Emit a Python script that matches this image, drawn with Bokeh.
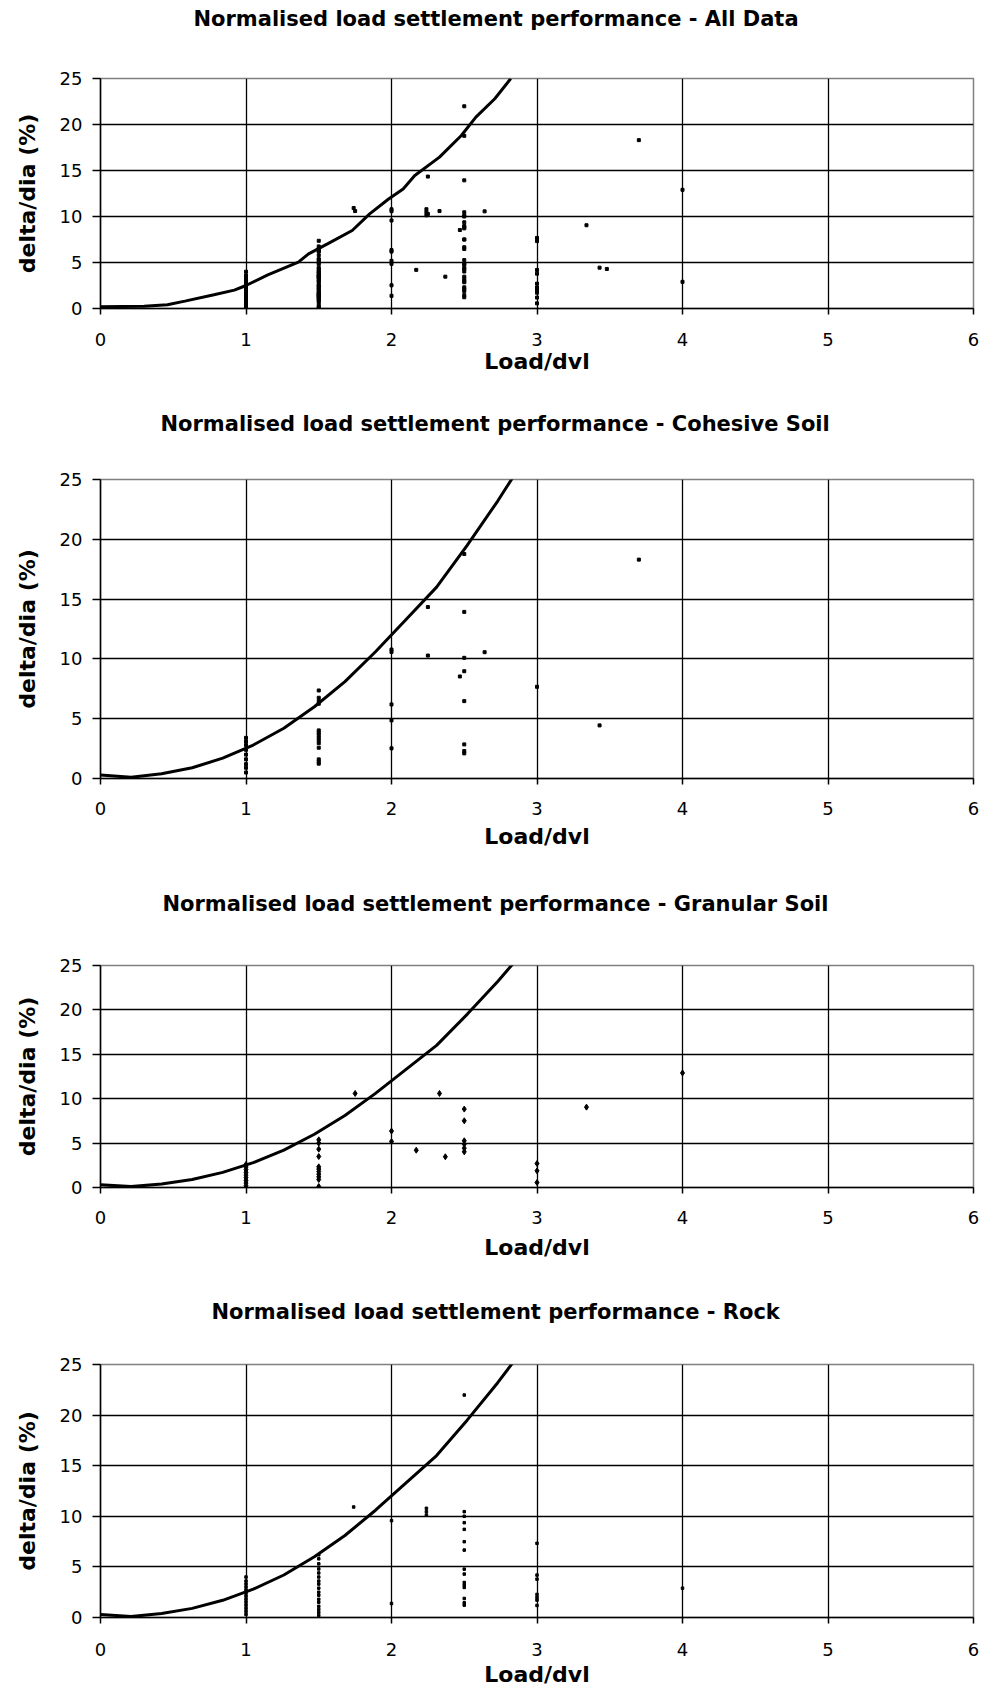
from bokeh.plotting import figure
from bokeh.models import Range1d, FixedTicker, Title
from bokeh.layouts import column
from bokeh.embed import file_html
from bokeh.resources import INLINE

# ---------------- data ----------------
x_ticks = [0, 1, 2, 3, 4, 5, 6]
y_ticks = [0, 5, 10, 15, 20, 25]

# fitted curve (All Data)
all_fit_x = [0, 0.30, 0.46, 0.58, 0.78, 0.92, 1.0, 1.15, 1.36, 1.43, 1.56, 1.73,
             1.85, 1.98, 2.08, 2.16, 2.33, 2.48, 2.58, 2.71, 2.82]
all_fit_y = [0.2, 0.25, 0.4, 0.8, 1.5, 2.0, 2.5, 3.66, 5.04, 5.94, 7.03, 8.48,
             10.29, 11.9, 13.0, 14.46, 16.45, 18.8, 20.8, 22.8, 25.0]

# fitted curve (subsets)
fit_x = [0, 0.21, 0.42, 0.63, 0.84, 1.05, 1.26, 1.47, 1.68, 1.89, 2.10, 2.31, 2.52, 2.73, 2.94]
fit_y = [0.3, 0.1, 0.4, 0.9, 1.7, 2.8, 4.2, 6.0, 8.1, 10.6, 13.3, 16.0, 19.5, 23.2, 27.2]

cohesive_x = [1, 1, 1, 1, 1, 1, 1, 1, 1,
              1.5, 1.5, 1.5, 1.5, 1.5, 1.5, 1.5, 1.5, 1.5, 1.5, 1.5, 1.5, 1.5, 1.5,
              2, 2, 2, 2, 2,
              2.25, 2.25,
              2.5, 2.5, 2.5, 2.5, 2.5, 2.5, 2.5, 2.5,
              2.47, 2.64, 3.0, 3.43, 3.70]
cohesive_y = [3.4, 3.1, 2.8, 2.4, 2.0, 1.6, 1.2, 0.9, 0.5,
              7.36, 6.75, 6.47, 6.25, 4.02, 3.83, 3.64, 3.42, 3.2, 2.95, 2.57, 1.6, 1.4, 1.24,
              10.78, 10.58, 6.19, 4.86, 2.52,
              14.34, 10.28,
              18.77, 13.93, 10.09, 8.97, 6.47, 2.85, 2.30, 2.10,
              8.53, 10.56, 7.67, 4.44, 18.3]

granular_x = [1, 1, 1, 1, 1, 1, 1, 1, 1,
              1.5, 1.5, 1.5, 1.5, 1.5, 1.5, 1.5, 1.5, 1.5, 1.5, 1.5,
              1.75, 2, 2, 2.17, 2.33, 2.37,
              2.5, 2.5, 2.5, 2.5, 2.5, 2.5,
              3, 3, 3, 3.34, 4.0]
granular_y = [2.6, 2.3, 2.0, 1.7, 1.4, 1.1, 0.8, 0.5, 0.2,
              5.37, 5.0, 4.32, 3.49, 2.33, 2.07, 1.8, 1.5, 1.2, 0.9, 0.11,
              10.59, 6.35, 5.18, 4.2, 10.59, 3.46,
              8.83, 7.51, 5.26, 4.88, 4.43, 4.02,
              2.7, 1.88, 0.56, 9.05, 12.9]

rock_x = [1, 1, 1, 1, 1, 1, 1, 1, 1, 1, 1, 1, 1,
          1.5, 1.5, 1.5, 1.5, 1.5, 1.5, 1.5, 1.5, 1.5, 1.5, 1.5, 1.5, 1.5, 1.5, 1.5, 1.5, 1.5,
          1.74, 2, 2, 2.24, 2.24, 2.24,
          2.5, 2.5, 2.5, 2.5, 2.5, 2.5, 2.5, 2.5, 2.5, 2.5, 2.5, 2.5, 2.5, 2.5, 2.5,
          3, 3, 3, 3, 3, 3, 3, 4]
rock_y = [4.0, 3.6, 3.3, 3.0, 2.7, 2.4, 2.1, 1.8, 1.5, 1.2, 0.9, 0.6, 0.3,
          6.2, 5.8, 5.3, 4.8, 4.4, 4.0, 3.6, 3.3, 2.9, 2.5, 2.2, 1.8, 1.5, 1.1, 0.8, 0.5, 0.2,
          10.92, 9.57, 1.38, 10.79, 10.46, 10.13,
          21.98, 10.46, 10.0, 9.37, 8.71, 7.49, 6.66, 4.78, 4.29, 3.46, 3.2, 2.97, 1.88, 1.45, 1.22,
          7.33, 4.19, 3.79, 2.28, 1.98, 1.72, 1.19, 2.9]

# points shown only in the All Data chart
other_x = [3.48]
other_y = [4.3]

all_x = cohesive_x + granular_x + rock_x + other_x
all_y = cohesive_y + granular_y + rock_y + other_y

FONT = "DejaVu Sans"


def make_chart(title_text, title_offset, title_gap, px, py, cx, cy, marker, msize,
               height, top, bottom, tick_standoff, label_standoff):
    p = figure(width=986, height=height, output_backend="svg", toolbar_location=None,
               title=None,
               x_range=Range1d(0, 6), y_range=Range1d(0, 25),
               min_border_left=100, min_border_right=13,
               min_border_top=top, min_border_bottom=bottom)
    p.background_fill_color = "white"
    p.border_fill_color = "white"
    p.outline_line_color = "#808080"
    p.outline_line_width = 1.5

    # spacer between frame and title (closest to the frame), then the title
    spacer = Title(text=" ", text_font_size="1px", standoff=title_gap)
    title = Title(text=title_text, text_font=FONT, text_font_style="bold",
                  text_font_size="21px", text_color="black",
                  align="left", offset=title_offset, standoff=0)
    p.add_layout(spacer, "above")
    p.add_layout(title, "above")

    p.xaxis.ticker = FixedTicker(ticks=x_ticks)
    p.yaxis.ticker = FixedTicker(ticks=y_ticks)
    p.xgrid.ticker = FixedTicker(ticks=x_ticks)
    p.ygrid.ticker = FixedTicker(ticks=y_ticks)
    for g in (p.xgrid, p.ygrid):
        g.grid_line_color = "black"
        g.grid_line_width = 1.3

    for ax in (p.xaxis, p.yaxis):
        ax.axis_line_color = "black"
        ax.axis_line_width = 1.5
        ax.major_tick_line_color = "black"
        ax.major_tick_line_width = 1.5
        ax.major_tick_in = 0
        ax.minor_tick_line_color = None
        ax.major_label_text_font = FONT
        ax.major_label_text_font_size = "18px"
        ax.major_label_text_color = "black"
        ax.axis_label_text_font = FONT
        ax.axis_label_text_font_style = "bold"
        ax.axis_label_text_font_size = "22px"
        ax.axis_label_text_color = "black"

    p.xaxis.major_tick_out = 6
    p.yaxis.major_tick_out = 8
    p.xaxis.major_label_standoff = tick_standoff
    p.yaxis.major_label_standoff = 10
    p.xaxis.axis_label = "Load/dvl"
    p.yaxis.axis_label = "delta/dia (%)"
    p.xaxis.axis_label_standoff = label_standoff
    p.yaxis.axis_label_standoff = 17

    p.line(cx, cy, line_color="black", line_width=3)
    p.scatter(px, py, marker=marker, size=msize, color="black")
    return p


p1 = make_chart("Normalised load settlement performance - All Data", 93, 45,
                all_x, all_y, all_fit_x, all_fit_y, "square", 3,
                395, 78, 87, 18, 0)
p2 = make_chart("Normalised load settlement performance - Cohesive Soil", 60, 41,
                cohesive_x, cohesive_y, fit_x, fit_y, "square", 3,
                475, 84, 92, 17, 6)
p3 = make_chart("Normalised load settlement performance - Granular Soil", 62, 47,
                granular_x, granular_y, fit_x, fit_y, "diamond", 6,
                420, 95, 103, 17, 8)
p4 = make_chart("Normalised load settlement performance - Rock", 111, 38,
                rock_x, rock_y, fit_x, fit_y, "square", 2.5,
                405, 74, 78, 19, 3)

layout = column(p1, p2, p3, p4)
open("out.html", "w").write(file_html(layout, INLINE))
